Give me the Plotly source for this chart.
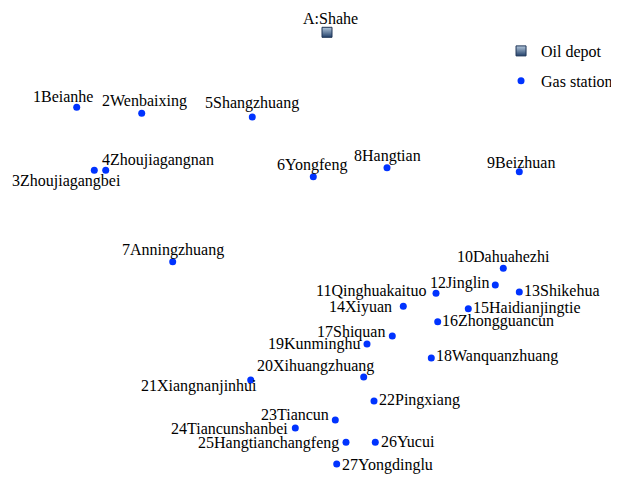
import plotly.graph_objects as go

# ---- data (map coordinates, arbitrary planar units) ----
depot_name = ["A:Shahe"]
depot_x = [32.70]
depot_y = [44.47]

station_names = [
    "1Beianhe", "2Wenbaixing", "3Zhoujiagangbei", "4Zhoujiagangnan", "5Shangzhuang",
    "6Yongfeng", "7Anningzhuang", "8Hangtian", "9Beizhuan", "10Dahuahezhi",
    "11Qinghuakaituo", "12Jinglin", "13Shikehua", "14Xiyuan", "15Haidianjingtie",
    "16Zhongguancun", "17Shiquan", "18Wanquanzhuang", "19Kunminghu", "20Xihuangzhuang",
    "21Xiangnanjinhui", "22Pingxiang", "23Tiancun", "24Tiancunshanbei",
    "25Hangtianchangfeng", "26Yucui", "27Yongdinglu",
]
station_x = [
    7.67, 14.17, 9.43, 10.57, 25.23,
    31.33, 17.27, 38.70, 51.93, 50.33,
    43.60, 49.53, 51.93, 40.33, 46.83,
    43.77, 39.23, 43.13, 36.70, 36.37,
    25.07, 37.40, 33.53, 29.53,
    34.60, 37.53, 33.67,
]
station_y = [
    36.97, 36.37, 30.67, 30.67, 36.00,
    30.03, 21.53, 30.93, 30.53, 20.87,
    18.37, 19.20, 18.50, 17.07, 16.83,
    15.53, 14.10, 11.90, 13.30, 10.00,
    9.70, 7.60, 5.70, 4.90,
    3.47, 3.47, 1.30,
]

# ---- label placement (style: anchor, pixel shifts) ----
depot_label = [("center", 3, 14)]
station_labels = [
    ("center", -13.5, 11), ("center", 3, 12.7), ("right", 27.7, -10.3), ("left", -4.7, 10),
    ("center", 0, 14), ("center", -1, 12), ("center", 0, 12), ("center", 0.5, 12),
    ("center", 1.7, 9.4), ("center", 0.4, 11.4), ("right", -8.3, 2), ("right", -4.6, 2),
    ("left", 4, 1.7), ("right", -10.6, -1), ("left", 4, 0.8), ("left", 3.6, 0.4),
    ("right", -6.3, 4), ("left", 3.4, 1.7), ("right", -6, 0.4), ("right", 11.6, 10.7),
    ("right", 7, -6.3), ("left", 4, 1.4), ("right", -5.3, 5.4), ("right", -6.6, 0),
    ("right", -6, -0.6), ("left", 4.7, 1), ("left", 4, -0.6),
]

FONT = "Liberation Serif, Times New Roman, serif"

fig = go.Figure()
fig.add_trace(go.Scatter(
    x=depot_x, y=depot_y, mode="markers", name="Oil depot",
    legendgroup="a",
    marker=dict(symbol="square", size=10, color="#b4c8dc",
                gradient=dict(type="vertical", color="#22406a"),
                line=dict(color="#1e3557", width=1)),
    hoverinfo="skip",
))
fig.add_trace(go.Scatter(
    x=station_x, y=station_y, mode="markers", name="Gas station",
    legendgroup="b",
    marker=dict(symbol="circle", size=7, color="#0033ff", line=dict(width=0)),
    hoverinfo="skip",
))

annotations = []
for names, xs, ys, labs in [(depot_name, depot_x, depot_y, depot_label),
                            (station_names, station_x, station_y, station_labels)]:
    for n, xv, yv, (anc, dx, dy) in zip(names, xs, ys, labs):
        annotations.append(dict(
            x=xv, y=yv, xref="x", yref="y", text=n, showarrow=False,
            xanchor=anc, yanchor="middle", xshift=dx, yshift=dy,
            font=dict(family=FONT, size=16, color="#000000"),
            borderpad=0,
        ))

fig.update_layout(
    width=619, height=477,
    margin=dict(l=0, r=0, t=0, b=0),
    paper_bgcolor="white", plot_bgcolor="white",
    xaxis=dict(range=[0.8, 62.7], visible=False, fixedrange=True),
    yaxis=dict(range=[-0.8, 46.9], visible=False, fixedrange=True),
    showlegend=True,
    legend=dict(x=0.7965, y=0.9455, xanchor="left", yanchor="top",
                font=dict(family=FONT, size=16, color="#000000"),
                bgcolor="rgba(0,0,0,0)", tracegroupgap=6,
                traceorder="grouped"),
    annotations=annotations,
    font=dict(family=FONT),
)

fig.write_html("out.html")
